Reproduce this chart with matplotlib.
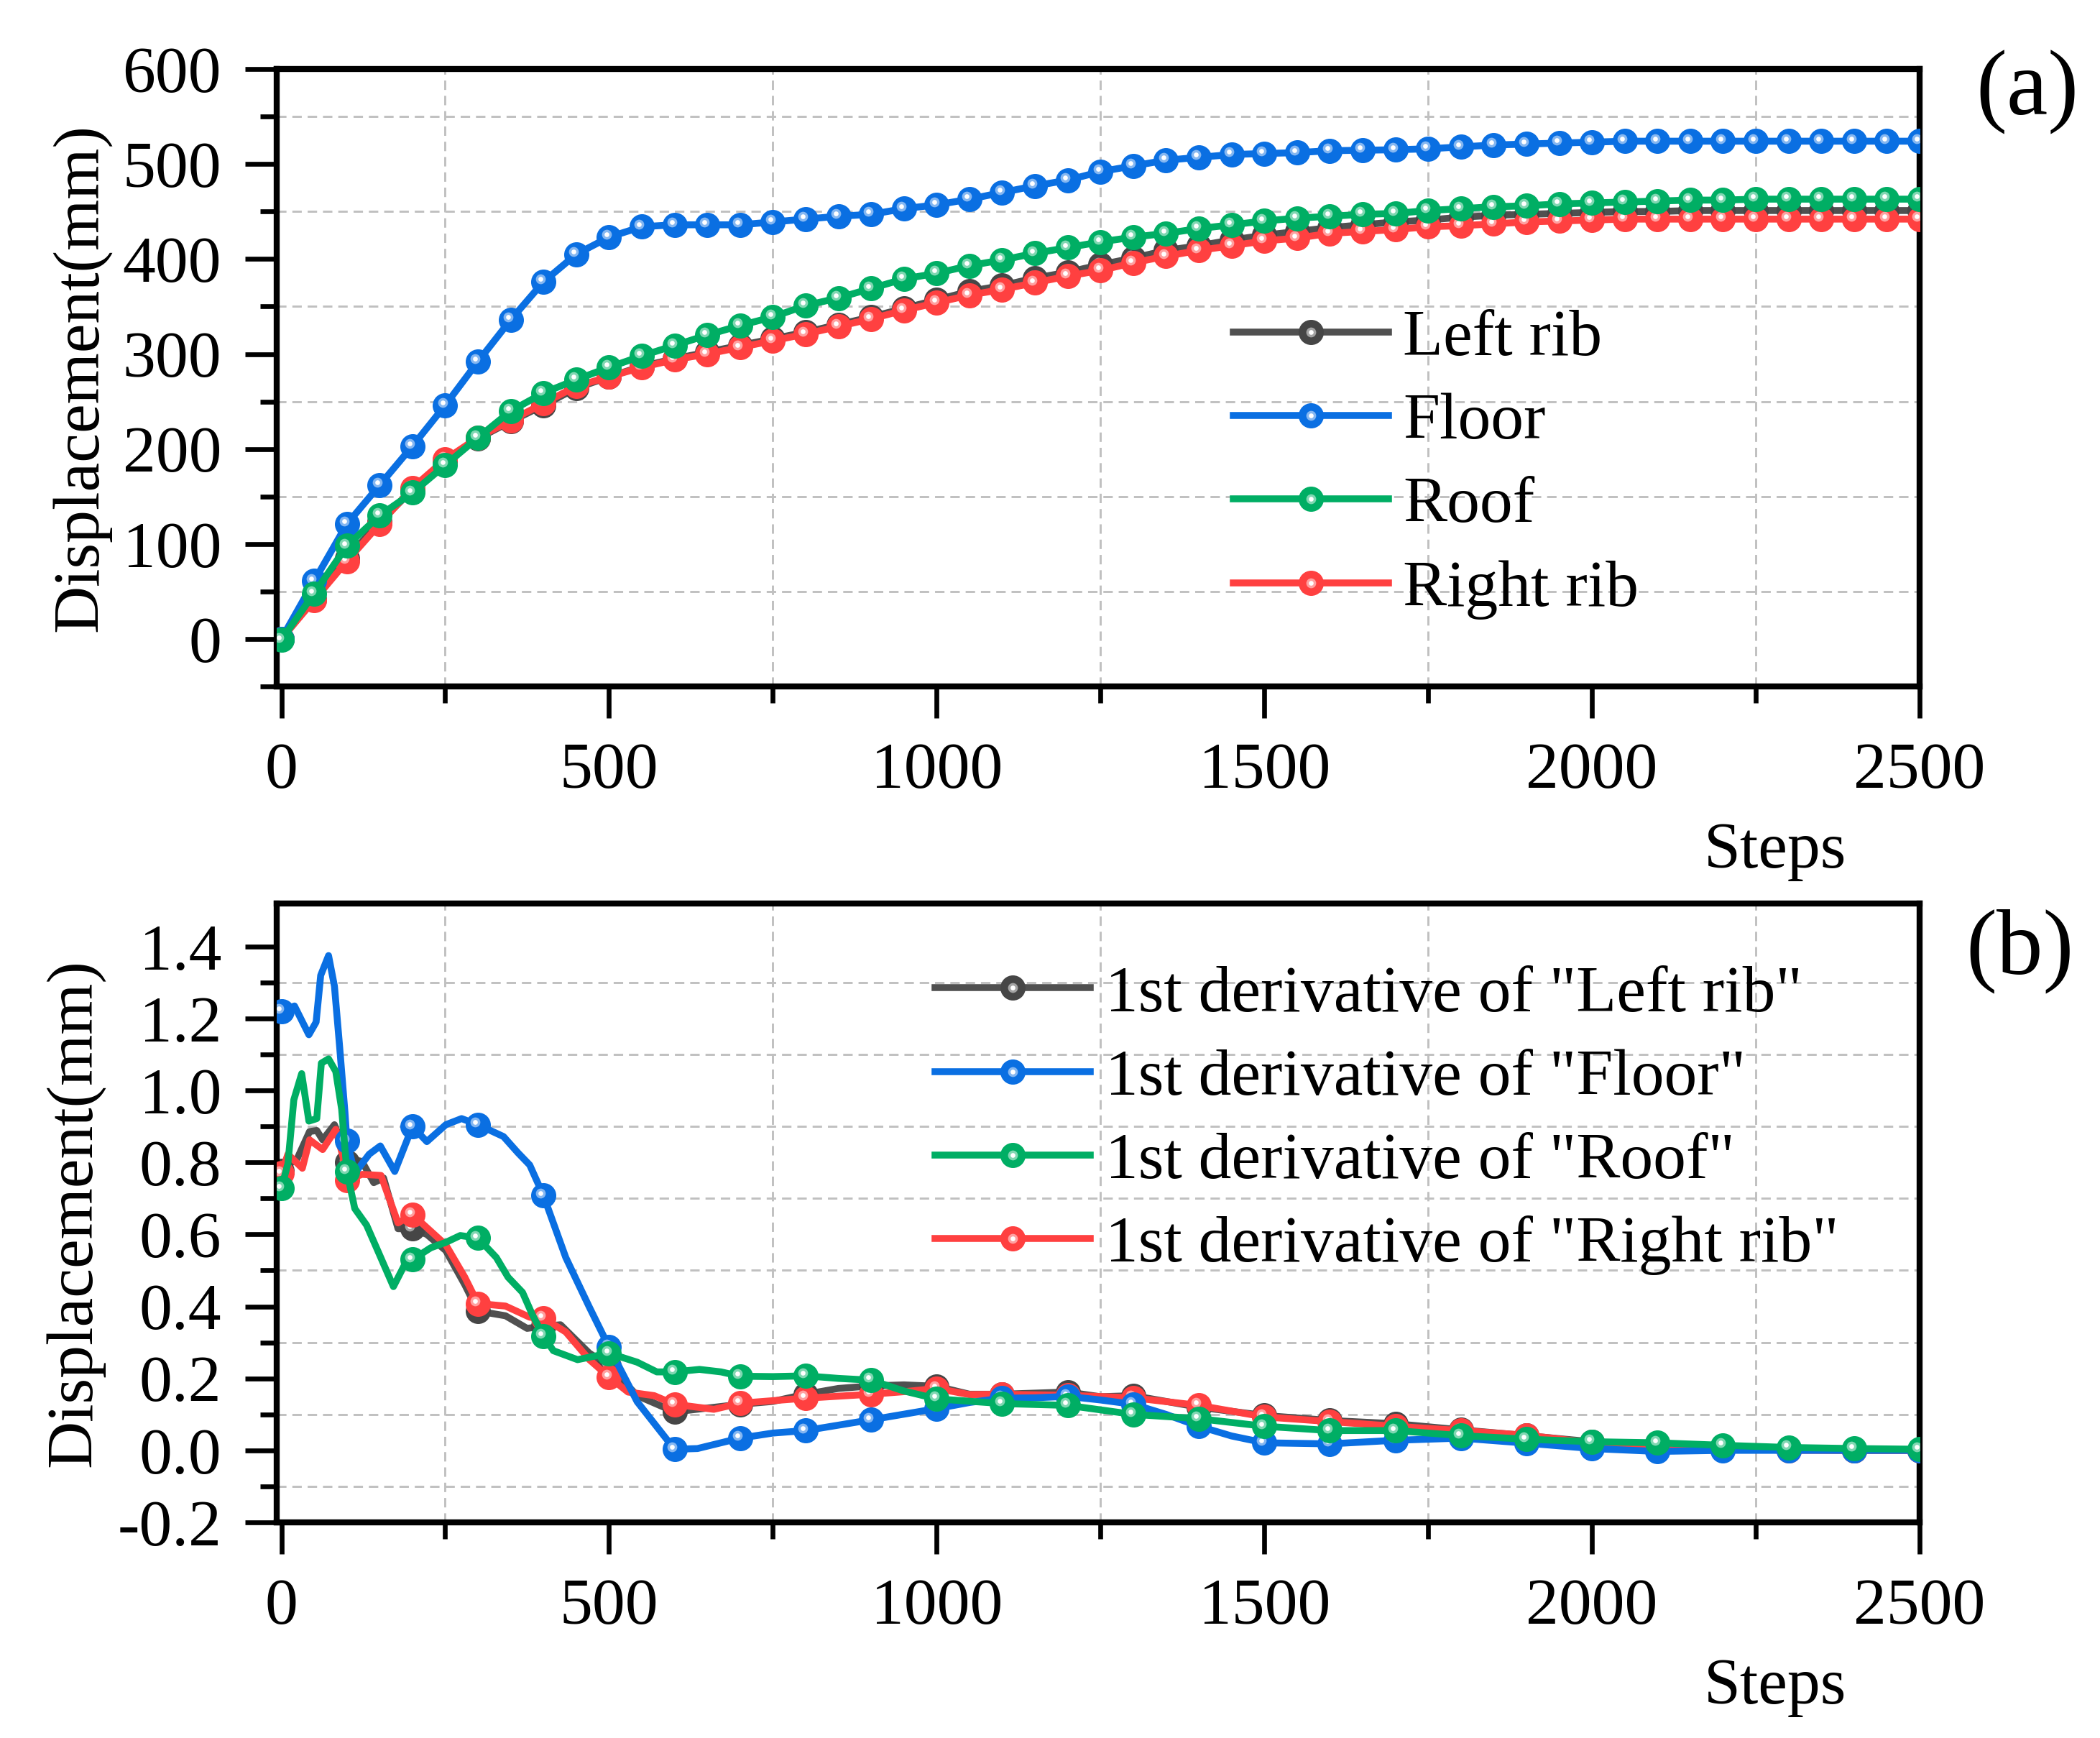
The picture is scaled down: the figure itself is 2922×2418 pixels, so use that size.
import numpy as np
import matplotlib
matplotlib.use('Agg')
import matplotlib.pyplot as plt
from matplotlib.ticker import MultipleLocator, FixedLocator
from matplotlib.transforms import offset_copy
from matplotlib.legend_handler import HandlerTuple
from matplotlib.colors import to_rgb

plt.rcParams['font.family'] = ['Liberation Serif', 'DejaVu Serif']
plt.rcParams['font.size'] = 22

# ---- (a) displacement, one point every 50 steps ----
steps = np.arange(0, 2501, 50)
left_rib = [0, 42, 85, 123, 157, 188, 211, 229, 246, 264,
            276, 287, 295, 302, 309, 316, 323, 331, 339, 348,
            357, 366, 372, 380, 386, 394, 401, 409, 414, 420,
            425, 429, 433, 436, 439, 441, 444, 446, 447, 448,
            449, 450, 450, 451, 451, 451, 451, 451, 451, 451, 451]
floor = [0, 61, 121, 162, 203, 246, 292, 336, 376, 405,
         423, 434, 436, 436, 436, 439, 442, 445, 447, 453,
         457, 463, 470, 477, 483, 492, 498, 504, 507, 510,
         511, 512, 514, 514.5, 515, 516, 518, 520, 521, 522,
         523, 524, 524, 524, 524, 524, 524, 524, 524, 524, 524]
roof = [-1, 48, 98, 130, 154, 183, 212, 240, 259, 273,
        286, 298, 309, 320, 330, 339, 351, 359, 369, 379,
        385, 393, 399, 406, 412, 418, 423, 427, 432, 436,
        440, 443, 445, 447, 448, 451, 453, 455, 456, 458,
        459, 460, 461, 462, 462, 463, 463, 463, 463, 463, 463]
right_rib = [0, 41, 82, 121, 159, 189, 212, 230, 248, 266,
             276, 286, 294, 300, 307, 314, 321, 329, 337, 346,
             354, 362, 368, 375, 382, 388, 396, 403, 409, 414,
             419, 422, 427, 429, 431, 434, 435, 437, 439, 440,
             441, 442, 442, 442, 442, 442, 442, 442, 442, 442, 442]

# ---- (b) first derivatives ----
left_d_steps = [0, 10, 24, 43, 54, 63, 81, 90, 97, 100, 112, 123, 141, 156, 178, 200,
                222, 251, 280, 300, 342, 375, 400, 426, 470, 500, 543, 600, 700, 750,
                800, 850, 900, 950, 1000, 1050, 1100, 1150, 1200, 1250, 1300, 1400,
                1500, 1600, 1700, 1800, 1900, 2000, 2100, 2200, 2300, 2400, 2500]
left_d = [0.777, 0.793, 0.81, 0.886, 0.889, 0.863, 0.905, 0.863, 0.81, 0.80, 0.807, 0.803,
          0.744, 0.757, 0.616, 0.616, 0.60, 0.555, 0.46, 0.387, 0.374, 0.339, 0.345, 0.349,
          0.27, 0.235, 0.152, 0.107, 0.128, 0.136, 0.156, 0.172, 0.179, 0.182, 0.178,
          0.156, 0.156, 0.159, 0.162, 0.149, 0.152, 0.12, 0.097, 0.083, 0.074, 0.057,
          0.041, 0.024, 0.012, 0.006, 0.002, 0.0, 0.0]

floor_d_steps = [0, 20, 42, 53, 60, 72, 81, 89, 97, 100, 112, 134, 151, 173, 200, 222,
                 251, 275, 300, 339, 361, 379, 400, 434, 470, 500, 543, 600, 635, 700,
                 750, 800, 900, 1000, 1050, 1100, 1150, 1200, 1250, 1300, 1350, 1400,
                 1450, 1500, 1600, 1700, 1800, 1900, 2000, 2100, 2200, 2300, 2400, 2500]
floor_d = [1.22, 1.235, 1.155, 1.19, 1.32, 1.375, 1.29, 1.12, 0.94, 0.86, 0.77, 0.823,
           0.846, 0.775, 0.90, 0.858, 0.905, 0.922, 0.905, 0.872, 0.827, 0.793, 0.708,
           0.536, 0.398, 0.287, 0.135, 0.003, 0.005, 0.034, 0.048, 0.055, 0.085, 0.116,
           0.133, 0.145, 0.146, 0.15, 0.14, 0.128, 0.10, 0.067, 0.04, 0.021, 0.018,
           0.028, 0.034, 0.02, 0.005, -0.003, 0.0, 0.0, 0.0, 0.0]

roof_d_steps = [0, 10, 19, 31, 42, 54, 61, 72, 83, 92, 100, 112, 130, 149, 171, 187,
                200, 228, 251, 273, 300, 328, 346, 368, 383, 400, 415, 452, 500, 543,
                573, 600, 638, 671, 700, 750, 800, 850, 900, 950, 1000, 1100, 1200,
                1300, 1400, 1500, 1600, 1700, 1800, 1900, 2000, 2100, 2200, 2300,
                2400, 2500]
roof_d = [0.728, 0.797, 0.974, 1.047, 0.915, 0.922, 1.076, 1.088, 1.053, 0.948, 0.775,
          0.672, 0.626, 0.547, 0.455, 0.512, 0.53, 0.563, 0.578, 0.597, 0.59, 0.536,
          0.481, 0.439, 0.377, 0.318, 0.277, 0.252, 0.27, 0.245, 0.218, 0.218, 0.225,
          0.218, 0.206, 0.205, 0.207, 0.20, 0.195, 0.165, 0.143, 0.13, 0.125, 0.10,
          0.088, 0.067, 0.055, 0.055, 0.041, 0.031, 0.024, 0.021, 0.014, 0.008,
          0.005, 0.003]

right_d_steps = [0, 10, 32, 43, 63, 83, 94, 100, 123, 152, 178, 200, 222, 251, 280,
                 300, 342, 379, 400, 434, 470, 500, 529, 569, 600, 660, 700, 800, 900,
                 950, 1000, 1050, 1100, 1200, 1300, 1400, 1500, 1600, 1700, 1800,
                 1900, 2000, 2100, 2200, 2300, 2400, 2500]
right_d = [0.77, 0.823, 0.784, 0.863, 0.836, 0.892, 0.816, 0.751, 0.767, 0.764, 0.632,
           0.655, 0.619, 0.571, 0.481, 0.408, 0.401, 0.37, 0.367, 0.329, 0.252, 0.204,
           0.162, 0.152, 0.128, 0.114, 0.131, 0.145, 0.156, 0.163, 0.172, 0.155, 0.156,
           0.153, 0.146, 0.125, 0.093, 0.08, 0.067, 0.055, 0.042, 0.021, 0.01, 0.005,
           0.0, 0.0, 0.0]

labels_a = ['Left rib', 'Floor', 'Roof', 'Right rib']
labels_b = ['1st derivative of "%s"' % s for s in labels_a]
line_colors = ['#505050', '#0A6FE2', '#00AE64', '#FF4040']
marker_colors = ['#464646', '#0A6FE2', '#00AE64', '#FF4040']
zorders = [2, 4, 5, 3]

fig = plt.figure(figsize=(2922 / 300, 2418 / 300), dpi=300)
ax1 = fig.add_axes([0.1318, 0.6050, 0.7823, 0.3553])
ax2 = fig.add_axes([0.1318, 0.1241, 0.7823, 0.3561])


def lighten(c, f):
    r, g, b = to_rgb(c)
    return (r + (1 - r) * f, g + (1 - g) * f, b + (1 - b) * f)


def draw(ax, x, y, lc, mc, z, every):
    x = np.asarray(x, dtype=float)
    y = np.asarray(y, dtype=float)
    mask = (x % every) == 0
    ln, = ax.plot(x, y, color=lc, lw=2.3, marker='o', ms=7.4, mfc=mc, mec=mc,
                  markevery=list(mask), zorder=z, solid_joinstyle='round')
    # small highlight so the markers read as shaded balls
    off = offset_copy(ax.transData, fig=fig, x=-0.9, y=0.9, units='points')
    h1, = ax.plot(x[mask], y[mask], ls='none', marker='o', ms=3.3, mec='none',
                  mfc=lighten(mc, 0.5), transform=off, zorder=z + 0.1)
    h2, = ax.plot(x[mask], y[mask], ls='none', marker='o', ms=1.6, mec='none',
                  mfc='white', transform=off, zorder=z + 0.2)
    return (ln, h1, h2)


series_a = [left_rib, floor, roof, right_rib]
handles_a = [draw(ax1, steps, s, line_colors[i], marker_colors[i], zorders[i], 50)
             for i, s in enumerate(series_a)]

series_b = [(left_d_steps, left_d), (floor_d_steps, floor_d),
            (roof_d_steps, roof_d), (right_d_steps, right_d)]
handles_b = [draw(ax2, sx, sy, line_colors[i], marker_colors[i], zorders[i], 100)
             for i, (sx, sy) in enumerate(series_b)]

for ax in (ax1, ax2):
    ax.set_xlim(-7, 2500)
    ax.xaxis.set_major_locator(MultipleLocator(500))
    ax.xaxis.set_minor_locator(MultipleLocator(250))
    ax.tick_params(which='both', direction='out', top=False, right=False,
                   width=1.6, pad=8)
    ax.tick_params(which='major', length=10.5)
    ax.tick_params(which='minor', length=5.5)
    for sp in ax.spines.values():
        sp.set_linewidth(2.0)
    ax.grid(which='minor', color='#c0c0c0', lw=0.7, ls=(0, (4.5, 2.8)))
    ax.grid(which='major', visible=False)
    ax.set_axisbelow(True)
    ax.set_ylabel('Displacement(mm)')
    ax.text(0.912, -0.293, 'Steps', transform=ax.transAxes, ha='center',
            va='baseline')

ax1.set_ylim(-50, 600)
ax1.yaxis.set_major_locator(MultipleLocator(100))
ax1.yaxis.set_minor_locator(MultipleLocator(50))
ax1.yaxis.set_label_coords(-0.101, 0.5)

ax2.set_ylim(-0.2, 1.52)
ax2.yaxis.set_major_locator(MultipleLocator(0.2))
ax2.yaxis.set_minor_locator(FixedLocator(np.arange(-0.1, 1.35, 0.2)))
ax2.yaxis.set_major_formatter(plt.FormatStrFormatter('%.1f'))
ax2.yaxis.set_label_coords(-0.105, 0.5)

leg_kw = dict(frameon=False, handlelength=2.36, handletextpad=0.22,
              labelspacing=0.36, borderpad=0, borderaxespad=0, numpoints=1,
              handler_map={tuple: HandlerTuple(ndivide=1)})
ax1.legend(handles_a, labels_a, loc='center left', bbox_to_anchor=(0.582, 0.36),
           **leg_kw)
ax2.legend(handles_b, labels_b, loc='center left', bbox_to_anchor=(0.4007, 0.65),
           **leg_kw)

fig.text(0.9655, 0.947, '(a)', fontsize=31, ha='center', va='center')
fig.text(0.9617, 0.4525, '(b)', fontsize=31, ha='center', va='center')

fig.savefig('out.png', dpi=300)
